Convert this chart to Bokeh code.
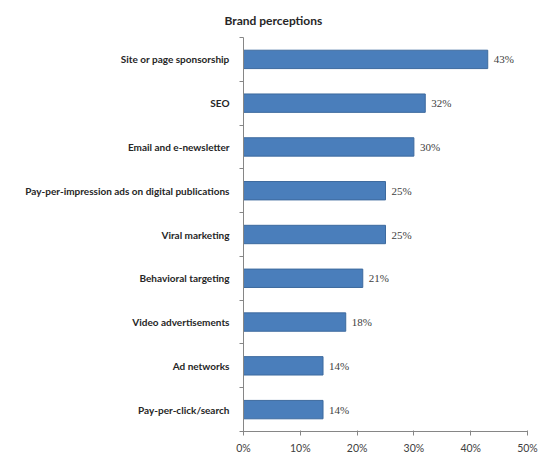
from bokeh.plotting import figure
from bokeh.models import ColumnDataSource, FixedTicker, Range1d, LabelSet
from bokeh.embed import file_html
from bokeh.resources import INLINE

categories = ["Site or page sponsorship", "SEO", "Email and e-newsletter",
              "Pay-per-impression ads on digital publications", "Viral marketing",
              "Behavioral targeting", "Video advertisements", "Ad networks",
              "Pay-per-click/search"]
values = [43, 32, 30, 25, 25, 21, 18, 14, 14]
x_ticks = [0, 10, 20, 30, 40, 50]
x_tick_labels = ["0%", "10%", "20%", "30%", "40%", "50%"]
title_text = "Brand perceptions"

n = len(categories)
ypos = [n - i - 0.5 for i in range(n)]
src = ColumnDataSource(dict(y=ypos, v=values, cat=categories,
                            lab=[f"{v}%" for v in values]))

p = figure(width=539, height=456, output_backend="svg", toolbar_location=None,
           x_range=Range1d(0, 50), y_range=Range1d(0, n),
           min_border_left=243, min_border_right=12, min_border_top=0,
           min_border_bottom=24, title=title_text)
p.outline_line_color = None
p.grid.visible = False
p.background_fill_color = "white"

p.title.align = "left"
p.title.offset = -19
p.title.text_font = "Lato"
p.title.text_font_size = "12px"
p.title.text_font_style = "bold"
p.title.text_color = "#262626"
p.title.standoff = 20

p.hbar(y="y", left=0, right="v", height=0.42, source=src,
       fill_color="#4A7EBB", line_color="#3D6A9E", line_width=1)

labels = LabelSet(x="v", y="y", text="lab", source=src, x_offset=6,
                  text_baseline="middle", text_font_size="11px",
                  text_font="Lato", text_color="#404040")
p.add_layout(labels)

# x axis
p.xaxis.ticker = FixedTicker(ticks=x_ticks, minor_ticks=[])
p.xaxis.major_label_overrides = {t: l for t, l in zip(x_ticks, x_tick_labels)}
p.xaxis.axis_line_color = "#868686"
p.xaxis.major_tick_line_color = "#868686"
p.xaxis.major_tick_out = 4
p.xaxis.major_tick_in = 1
p.xaxis.major_label_text_font = "Lato"
p.xaxis.major_label_text_font_size = "10.5px"
p.xaxis.major_label_text_color = "#404040"
p.xaxis.major_label_standoff = 6

# y axis: labels at centers, ticks at boundaries
p.yaxis.ticker = FixedTicker(ticks=ypos, minor_ticks=list(range(n + 1)))
p.yaxis.major_label_overrides = {y: c for y, c in zip(ypos, categories)}
p.yaxis.axis_line_color = "#868686"
p.yaxis.major_tick_line_color = None
p.yaxis.minor_tick_line_color = "#868686"
p.yaxis.minor_tick_out = 4
p.yaxis.minor_tick_in = 0
p.yaxis.major_label_text_font = "Lato"
p.yaxis.major_label_text_font_size = "10px"
p.yaxis.major_label_text_font_style = "bold"
p.yaxis.major_label_text_color = "#262626"
p.yaxis.major_label_standoff = 8

open("out.html", "w").write(file_html(p, INLINE))
